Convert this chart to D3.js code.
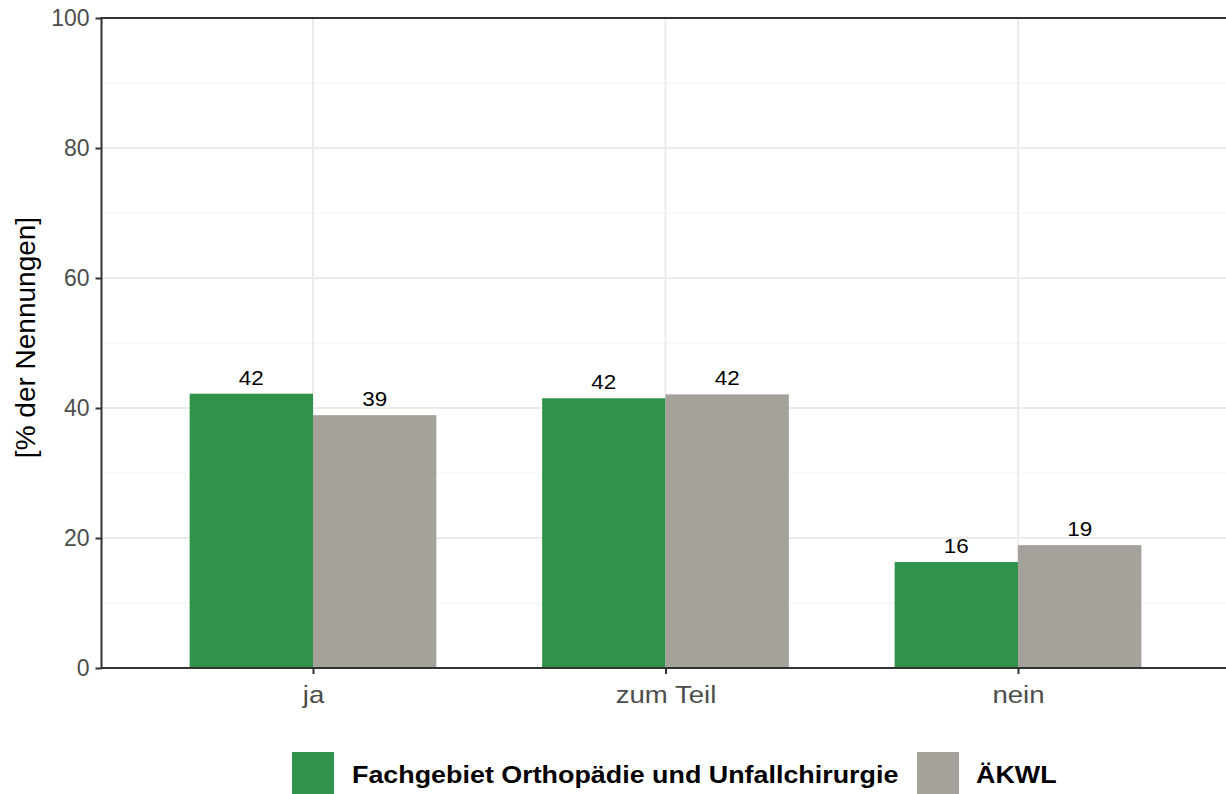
<!DOCTYPE html>
<html>
<head>
<meta charset="utf-8">
<script src="https://cdn.jsdelivr.net/npm/d3@7"></script>
<style>
  html, body { margin: 0; padding: 0; background: #ffffff; }
  svg { display: block; font-family: "Liberation Sans", Arial, sans-serif; }
</style>
</head>
<body>
<svg id="chart" width="1226" height="794"></svg>
<script>
const categories = ["ja", "zum Teil", "nein"];
const seriesNames = ["Fachgebiet Orthopädie und Unfallchirurgie", "ÄKWL"];
const seriesColors = ["#31934a", "#a5a29b"];
const valuesFach = [42.2, 41.5, 16.3];
const valuesAekwl = [38.9, 42.1, 18.9];
const yTicks = [0, 20, 40, 60, 80, 100];
const yMinor = [10, 30, 50, 70, 90];
const yTitle = "[% der Nennungen]";

const svg = d3.select("#chart");
const pLeft = 101.5, pRight = 1229.5, pTop = 18, pBottom = 668;

const x = d3.scalePoint().domain(categories).range([pLeft, pRight]).padding(0.6);
const step = x.step();
const barW = step * 0.35;
const sub = d3.scaleBand().domain(seriesNames).range([-barW, barW]).padding(0);
const y = d3.scaleLinear().domain([0, 100]).range([pBottom, pTop]);

const data = [];
categories.forEach((c, i) => {
  data.push({cat: c, s: seriesNames[0], v: valuesFach[i], color: seriesColors[0]});
  data.push({cat: c, s: seriesNames[1], v: valuesAekwl[i], color: seriesColors[1]});
});

// grid
const g = svg.append("g");
g.selectAll(".minor").data(yMinor).enter().append("line")
  .attr("x1", pLeft).attr("x2", pRight).attr("y1", d => y(d)).attr("y2", d => y(d))
  .attr("stroke", "#f2f2f2").attr("stroke-width", 1);
g.selectAll(".major").data(yTicks).enter().append("line")
  .attr("x1", pLeft).attr("x2", pRight).attr("y1", d => y(d)).attr("y2", d => y(d))
  .attr("stroke", "#ebebeb").attr("stroke-width", 2);
g.selectAll(".vmajor").data(categories).enter().append("line")
  .attr("x1", d => x(d)).attr("x2", d => x(d)).attr("y1", pTop).attr("y2", pBottom)
  .attr("stroke", "#ebebeb").attr("stroke-width", 2);

// bars
svg.append("g").selectAll("rect").data(data).enter().append("rect")
  .attr("x", d => x(d.cat) + sub(d.s))
  .attr("width", sub.bandwidth())
  .attr("y", d => y(d.v))
  .attr("height", d => y(0) - y(d.v))
  .attr("fill", d => d.color);

// value labels
svg.append("g").selectAll("text").data(data).enter().append("text")
  .attr("transform", d => `translate(${x(d.cat) + sub(d.s) + sub.bandwidth() / 2},${y(d.v) - 9}) scale(1.15,1)`)
  .attr("text-anchor", "middle")
  .attr("font-size", 19.5)
  .attr("fill", "#000")
  .text(d => Math.round(d.v));

// axes
const yAxis = d3.axisLeft(y).tickValues(yTicks).tickSize(6).tickPadding(6);
const ya = svg.append("g").attr("transform", `translate(${pLeft},0)`).call(yAxis);
ya.select(".domain").remove();
ya.selectAll(".tick line").attr("stroke", "#333").attr("stroke-width", 2);
ya.selectAll(".tick text").attr("font-size", 23).attr("fill", "#4d4d4d").attr("font-family", "Liberation Sans, Arial, sans-serif");

const xAxis = d3.axisBottom(x).tickSize(6).tickPadding(12);
const xa = svg.append("g").attr("transform", `translate(0,${pBottom})`).call(xAxis);
xa.select(".domain").remove();
xa.selectAll(".tick line").attr("stroke", "#333").attr("stroke-width", 2);
xa.selectAll(".tick text").attr("font-size", 24).attr("fill", "#4d4d4d")
  .attr("font-family", "Liberation Sans, Arial, sans-serif")
  .attr("transform", "scale(1.15,1)");

// axis lines (left, bottom, top)
svg.append("line").attr("x1", pLeft).attr("x2", pLeft).attr("y1", pTop - 1).attr("y2", pBottom + 1).attr("stroke", "#333").attr("stroke-width", 2);
svg.append("line").attr("x1", pLeft).attr("x2", pRight).attr("y1", pBottom).attr("y2", pBottom).attr("stroke", "#333").attr("stroke-width", 2);
svg.append("line").attr("x1", pLeft).attr("x2", pRight).attr("y1", pTop).attr("y2", pTop).attr("stroke", "#333").attr("stroke-width", 2);

// y title
svg.append("text")
  .attr("transform", `translate(35,${(217 + 458) / 2}) rotate(-90)`)
  .attr("text-anchor", "middle")
  .attr("font-size", 28)
  .attr("fill", "#000")
  .text(yTitle);

// legend
const legend = svg.append("g");
const legItems = [
  {name: seriesNames[0], color: seriesColors[0], sx: 292, tx: 352},
  {name: seriesNames[1], color: seriesColors[1], sx: 917, tx: 976}
];
legItems.forEach(it => {
  legend.append("rect").attr("x", it.sx).attr("y", 752).attr("width", 42).attr("height", 42).attr("fill", it.color);
  legend.append("text").attr("transform", `translate(${it.tx},783) scale(1.12,1)`)
    .attr("font-size", 24).attr("font-weight", "bold").attr("fill", "#000")
    .text(it.name);
});
</script>
</body>
</html>
